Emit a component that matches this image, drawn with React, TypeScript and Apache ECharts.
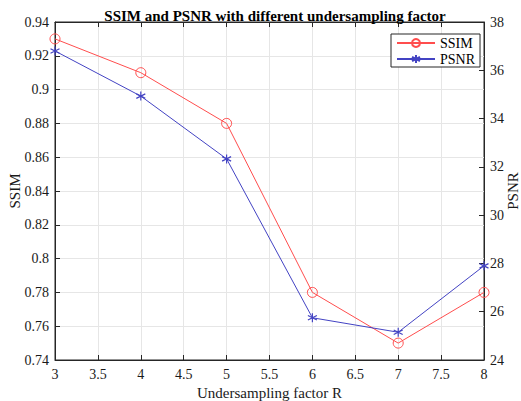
import React, { useEffect, useRef } from "react";
import * as echarts from "echarts";

const titleText = "SSIM and PSNR with different undersampling factor";
const factors = [3, 4, 5, 6, 7, 8];
const ssimValues = [0.93, 0.91, 0.88, 0.78, 0.75, 0.78];
const psnrValues = [36.8, 34.93, 32.33, 25.75, 25.15, 27.9];
const xTicks = [3, 3.5, 4, 4.5, 5, 5.5, 6, 6.5, 7, 7.5, 8];
const ssimTicks = [0.74, 0.76, 0.78, 0.8, 0.82, 0.84, 0.86, 0.88, 0.9, 0.92, 0.94];
const psnrTicks = [24, 26, 28, 30, 32, 34, 36, 38];

const FONT = "Liberation Serif";
const AX = "#262626";
const RED = "#ff4d4d";
const BLUE = "#4343c3";
const STAR = "path://M5,0 L5,10 M0.67,2.5 L9.33,7.5 M0.67,7.5 L9.33,2.5";

export default function App() {
  const ref = useRef<HTMLDivElement>(null);
  useEffect(() => {
    document.body.style.margin = "0";
    if (!ref.current) return;
    const chart = echarts.init(ref.current, undefined, { renderer: "svg" });
    const fmt = (v: number) => "{t|" + String(Number(v.toFixed(2))) + "}";
    const labelStyle = {
      color: "#1a1a1a",
      fontFamily: FONT,
      fontSize: 14,
      rich: { t: { fontFamily: FONT, fontSize: 14, color: "#1a1a1a" } },
    };
    const axisCommon = {
      axisLine: { show: true, lineStyle: { color: AX, width: 1 } },
      axisTick: { show: true, inside: true, length: 5, lineStyle: { color: AX } },
      nameTextStyle: { color: "#1a1a1a", fontFamily: FONT, fontSize: 15 },
      nameMoveOverlap: false,
    };
    chart.setOption({
      animation: false,
      backgroundColor: "#ffffff",
      textStyle: { fontFamily: FONT },
      title: {
        text: titleText,
        left: 270,
        textAlign: "center",
        top: 3,
        textStyle: { fontFamily: FONT, fontSize: 15, fontWeight: "bold", color: "#000" },
      },
      grid: {
        left: 55,
        right: 37,
        top: 22,
        bottom: 41,
        containLabel: false,
        outerBoundsMode: "none",
        show: true,
        borderColor: AX,
        borderWidth: 1,
        backgroundColor: "#fff",
      },
      legend: {
        left: 391,
        top: 34,
        orient: "vertical",
        itemWidth: 38,
        itemHeight: 10,
        itemGap: 2,
        padding: [2, 5, 1, 5],
        borderColor: AX,
        borderWidth: 1,
        backgroundColor: "#fff",
        textStyle: { fontFamily: FONT, fontSize: 14, color: "#000" },
        data: ["SSIM", "PSNR"],
      },
      xAxis: [
        {
          ...axisCommon,
          type: "value",
          min: xTicks[0],
          max: xTicks[xTicks.length - 1],
          interval: 0.5,
          position: "bottom",
          name: "Undersampling factor R",
          nameLocation: "middle",
          nameGap: 25,
          axisLabel: { ...labelStyle, margin: 7, formatter: fmt },
          splitLine: { show: true, lineStyle: { color: "#e6e6e6" } },
        },
        {
          ...axisCommon,
          type: "value",
          min: xTicks[0],
          max: xTicks[xTicks.length - 1],
          interval: 0.5,
          position: "top",
          axisLabel: { show: false },
          splitLine: { show: false },
        },
      ],
      yAxis: [
        {
          ...axisCommon,
          type: "value",
          min: ssimTicks[0],
          max: ssimTicks[ssimTicks.length - 1],
          interval: 0.02,
          position: "left",
          name: "SSIM",
          nameLocation: "middle",
          nameRotate: 90,
          nameGap: 33,
          axisLabel: { ...labelStyle, margin: 6, formatter: fmt },
          splitLine: { show: true, lineStyle: { color: "#e6e6e6" } },
        },
        {
          ...axisCommon,
          type: "value",
          min: psnrTicks[0],
          max: psnrTicks[psnrTicks.length - 1],
          interval: 2,
          position: "right",
          name: "PSNR",
          nameLocation: "middle",
          nameRotate: 90,
          nameGap: 21,
          axisLabel: { ...labelStyle, margin: 6, formatter: fmt },
          splitLine: { show: false },
        },
      ],
      series: [
        {
          name: "SSIM",
          type: "line",
          yAxisIndex: 0,
          data: factors.map((f, i) => [f, ssimValues[i]]),
          symbol: "circle",
          symbolSize: 10,
          showAllSymbol: true,
          lineStyle: { color: RED, width: 1 },
          itemStyle: { color: "transparent", borderColor: RED, borderWidth: 1 },
          z: 3,
        },
        {
          name: "PSNR",
          type: "line",
          yAxisIndex: 1,
          data: factors.map((f, i) => [f, psnrValues[i]]),
          symbol: STAR,
          symbolSize: 9,
          showAllSymbol: true,
          lineStyle: { color: BLUE, width: 1 },
          itemStyle: { color: "transparent", borderColor: BLUE, borderWidth: 1.2 },
          z: 3,
        },
      ],
    });
    return () => chart.dispose();
  }, []);
  return <div ref={ref} style={{ width: 521, height: 401 }} />;
}
